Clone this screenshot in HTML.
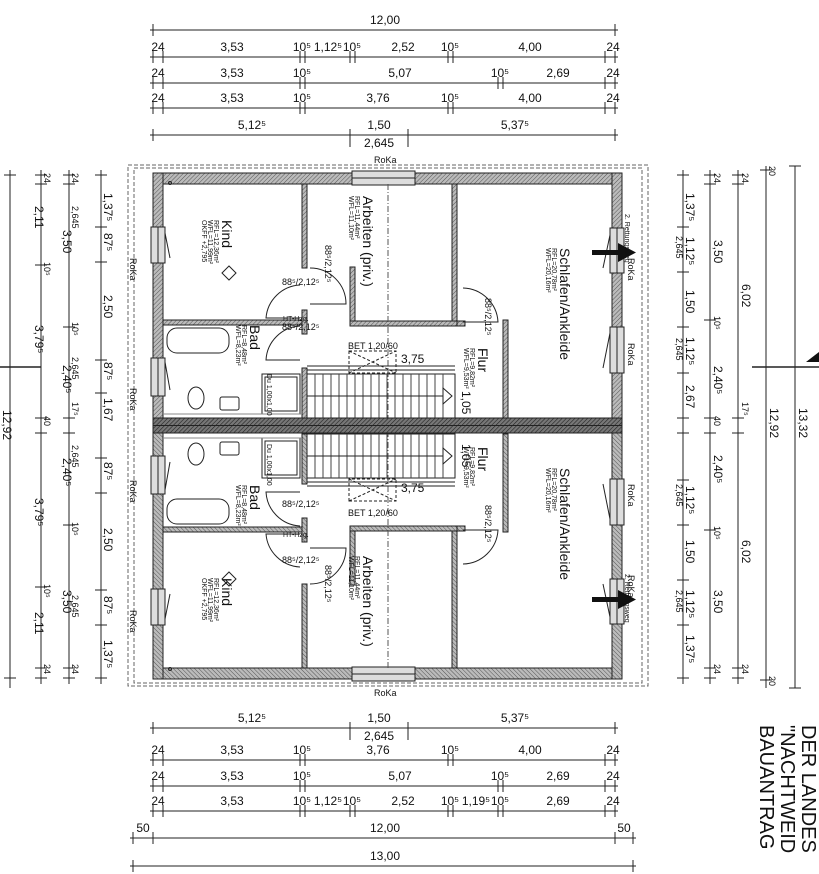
<!DOCTYPE html>
<html><head><meta charset="utf-8"><style>
html,body{margin:0;padding:0;background:#fff;}
svg{display:block;font-family:"Liberation Sans",sans-serif;}
</style></head><body>
<svg width="819" height="874" viewBox="0 0 819 874" xmlns="http://www.w3.org/2000/svg">
<defs>
<pattern id="h" width="3" height="3" patternUnits="userSpaceOnUse" patternTransform="rotate(45)">
<rect width="3" height="3" fill="#bbb"/><line x1="0" y1="0" x2="0" y2="3" stroke="#555" stroke-width="1"/></pattern>
<pattern id="hd" width="3" height="3" patternUnits="userSpaceOnUse" patternTransform="rotate(45)">
<rect width="3" height="3" fill="#777"/><line x1="0" y1="0" x2="0" y2="3" stroke="#222" stroke-width="1.2"/></pattern>
</defs>
<rect width="819" height="874" fill="#fff"/>

<rect x="128" y="165" width="520" height="521" fill="none" stroke="#666" stroke-dasharray="4,2" stroke-width="1"/>
<rect x="134" y="168" width="508" height="515" fill="none" stroke="#666" stroke-dasharray="4,2" stroke-width="1"/>

<g id="half" stroke="#222" stroke-width="1">
  <rect x="153" y="173" width="469" height="11" fill="url(#h)"/>
  <rect x="153" y="173" width="10" height="253" fill="url(#h)"/>
  <rect x="612" y="173" width="10" height="253" fill="url(#h)"/>
  <rect x="302" y="184" width="5" height="84" fill="url(#h)"/>
  <rect x="452" y="184" width="5" height="142" fill="url(#h)"/>
  <rect x="350" y="267" width="5" height="59" fill="url(#h)"/>
  <rect x="350" y="321" width="107" height="5" fill="url(#h)"/>
  <rect x="163" y="320" width="144" height="5" fill="url(#h)"/>
  <rect x="302" y="310" width="5" height="24" fill="url(#h)"/>
  <rect x="302" y="368" width="5" height="50" fill="url(#h)"/>
  <rect x="503" y="320" width="5" height="98" fill="url(#h)"/>
  <rect x="457" y="321" width="8" height="5" fill="url(#h)"/>
  <rect x="352" y="171" width="63" height="14" fill="#ddd"/>
  <line x1="352" y1="178" x2="415" y2="178"/>
  <rect x="151" y="227" width="14" height="36" fill="#ddd"/><line x1="158" y1="227" x2="158" y2="263"/>
  <path d="M165 233 L170 258" fill="none"/>
  <rect x="151" y="358" width="14" height="38" fill="#ddd"/><line x1="158" y1="358" x2="158" y2="396"/>
  <path d="M165 362 L170 390" fill="none"/>
  <rect x="610" y="228" width="14" height="45" fill="#ddd"/><line x1="617" y1="228" x2="617" y2="273"/>
  <path d="M610 235 L603 268" fill="none"/>
  <rect x="610" y="327" width="14" height="46" fill="#ddd"/><line x1="617" y1="327" x2="617" y2="373"/>
  <path d="M610 333 L603 368" fill="none"/>
  <path d="M310 268 A36 36 0 0 1 346 304 L310 304" fill="none"/>
  <path d="M300 285 A36 36 0 0 0 266 318 L300 318" fill="none"/>
  <path d="M300 330 A36 36 0 0 0 266 364 L300 364" fill="none" transform="translate(0,-4)"/>
  <path d="M463 288 A36 36 0 0 1 498 322 L463 322" fill="none"/>
  <rect x="307" y="374" width="148" height="44" fill="none"/>
  <g stroke="#444">
   <line x1="315" y1="374" x2="315" y2="418"/><line x1="323" y1="374" x2="323" y2="418"/><line x1="331" y1="374" x2="331" y2="418"/><line x1="339" y1="374" x2="339" y2="418"/><line x1="347" y1="374" x2="347" y2="418"/><line x1="355" y1="374" x2="355" y2="418"/><line x1="363" y1="374" x2="363" y2="418"/><line x1="371" y1="374" x2="371" y2="418"/><line x1="379" y1="374" x2="379" y2="418"/><line x1="387" y1="374" x2="387" y2="418"/><line x1="395" y1="374" x2="395" y2="418"/><line x1="403" y1="374" x2="403" y2="418"/><line x1="411" y1="374" x2="411" y2="418"/><line x1="419" y1="374" x2="419" y2="418"/><line x1="427" y1="374" x2="427" y2="418"/><line x1="435" y1="374" x2="435" y2="418"/><line x1="443" y1="374" x2="443" y2="418"/>
  </g>
  <path d="M443 388 L452 396 L443 404 Z" fill="none"/>
  <line x1="307" y1="396" x2="443" y2="396"/>
  <line x1="307" y1="370" x2="455" y2="370"/>
  <rect x="349" y="351" width="47" height="22" fill="none" stroke-dasharray="3,2"/>
  <path d="M349 351 L396 373 M349 373 L396 351" stroke-dasharray="3,2" fill="none"/>
  <rect x="167" y="328" width="62" height="25" rx="10" fill="none"/>
  <rect x="262" y="374" width="38" height="40" fill="none"/>
  <rect x="265" y="377" width="32" height="34" fill="none"/>
  <ellipse cx="196" cy="398" rx="8" ry="11" fill="none"/>
  <rect x="220" y="397" width="19" height="13" rx="2" fill="none"/>
  <line x1="163" y1="414" x2="302" y2="414" stroke="#888"/>
  <line x1="388" y1="184" x2="388" y2="418" stroke="#555" stroke-dasharray="6,2,1,2"/>
  <rect x="592" y="250" width="28" height="5" fill="#111" stroke="none"/>
  <path d="M618 243 L636 252.5 L618 262 Z" fill="#111" stroke="none"/>
  <circle cx="170" cy="183" r="1.5" fill="none"/>
  <path d="M222 273 l7 -7 l7 7 l-7 7 z" fill="none"/>
</g>
<use href="#half" transform="translate(0,852) scale(1,-1)"/>

<rect x="153" y="418" width="469" height="15" fill="url(#hd)" stroke="#222"/>
<line x1="153" y1="425.5" x2="622" y2="425.5" stroke="#222" stroke-width="1"/>

<g fill="#111" font-size="14">
 <text transform="translate(222,220) rotate(90)">Kind</text>
 <text transform="translate(363,196) rotate(90)">Arbeiten  (priv.)</text>
 <text transform="translate(560,248) rotate(90)">Schlafen/Ankleide</text>
 <text transform="translate(250,325) rotate(90)">Bad</text>
 <text transform="translate(478,348) rotate(90)">Flur</text>
 <text transform="translate(222,578) rotate(90)">Kind</text>
 <text transform="translate(363,556) rotate(90)">Arbeiten  (priv.)</text>
 <text transform="translate(560,468) rotate(90)">Schlafen/Ankleide</text>
 <text transform="translate(250,485) rotate(90)">Bad</text>
 <text transform="translate(478,447) rotate(90)">Flur</text>
</g>
<g fill="#111" font-size="7">
 <text transform="translate(214,220) rotate(90)">RFL=12,36m²</text>
 <text transform="translate(208,220) rotate(90)">WFL=11,99m²</text>
 <text transform="translate(202,220) rotate(90)">OKFF +2,795</text>
 <text transform="translate(355,196) rotate(90)">RFL=11,44m²</text>
 <text transform="translate(349,196) rotate(90)">WFL=11,10m²</text>
 <text transform="translate(552,248) rotate(90)">RFL=20,78m²</text>
 <text transform="translate(546,248) rotate(90)">WFL=20,16m²</text>
 <text transform="translate(242,325) rotate(90)">RFL=8,48m²</text>
 <text transform="translate(236,325) rotate(90)">WFL=8,23m²</text>
 <text transform="translate(470,348) rotate(90)">RFL=9,82m²</text>
 <text transform="translate(464,348) rotate(90)">WFL=9,53m²</text>
 <text transform="translate(214,578) rotate(90)">RFL=12,36m²</text>
 <text transform="translate(208,578) rotate(90)">WFL=11,99m²</text>
 <text transform="translate(202,578) rotate(90)">OKFF +2,795</text>
 <text transform="translate(355,556) rotate(90)">RFL=11,44m²</text>
 <text transform="translate(349,556) rotate(90)">WFL=11,10m²</text>
 <text transform="translate(552,468) rotate(90)">RFL=20,78m²</text>
 <text transform="translate(546,468) rotate(90)">WFL=20,16m²</text>
 <text transform="translate(242,485) rotate(90)">RFL=8,48m²</text>
 <text transform="translate(236,485) rotate(90)">WFL=8,23m²</text>
 <text transform="translate(470,447) rotate(90)">RFL=9,82m²</text>
 <text transform="translate(464,447) rotate(90)">WFL=9,53m²</text>
 <text x="283" y="321">HT-Hzg.</text>
 <text x="283" y="537">HT-Hzg.</text>
 <text transform="translate(267,374) rotate(90)">Du 1,00x1,00</text>
 <text transform="translate(267,444) rotate(90)">Du 1,00x1,00</text>
 <text transform="translate(625,214) rotate(90)">2. Rettungsweg</text>
 <text transform="translate(625,574) rotate(90)">2. Rettungsweg</text>
</g>
<g fill="#111" font-size="9">
 <text x="282" y="330">88⁵/2,12⁵</text>
 <text x="282" y="285">88⁵/2,12⁵</text>
 <text x="282" y="507">88⁵/2,12⁵</text>
 <text x="282" y="563">88⁵/2,12⁵</text>
 <text transform="translate(325,245) rotate(90)">88⁵/2,12⁵</text>
 <text transform="translate(325,565) rotate(90)">88⁵/2,12⁵</text>
 <text transform="translate(485,298) rotate(90)">88⁵/2,12⁵</text>
 <text transform="translate(485,505) rotate(90)">88⁵/2,12⁵</text>
 <text x="348" y="349">BET 1,20/60</text>
 <text x="348" y="516">BET 1,20/60</text>
 <text transform="translate(130,258) rotate(90)">RoKa</text>
 <text transform="translate(130,388) rotate(90)">RoKa</text>
 <text transform="translate(130,480) rotate(90)">RoKa</text>
 <text transform="translate(130,610) rotate(90)">RoKa</text>
 <text transform="translate(628,258) rotate(90)">RoKa</text>
 <text transform="translate(628,343) rotate(90)">RoKa</text>
 <text transform="translate(628,484) rotate(90)">RoKa</text>
 <text transform="translate(628,575) rotate(90)">RoKa</text>
 <text x="374" y="163">RoKa</text>
 <text x="374" y="696">RoKa</text>
</g>
<g fill="#111" font-size="12">
 <text x="401" y="363">3,75</text>
 <text x="401" y="492">3,75</text>
 <text transform="translate(462,391) rotate(90)">1,05</text>
 <text transform="translate(462,444) rotate(90)">1,05</text>
</g>
<line x1="307" y1="366" x2="455" y2="366" stroke="#222"/>
<line x1="307" y1="486" x2="455" y2="486" stroke="#222"/>

<g stroke="#222" stroke-width="1" fill="none">
 <line x1="150" y1="30" x2="618" y2="30"/>
 <line x1="150" y1="57" x2="618" y2="57"/>
 <line x1="150" y1="83" x2="618" y2="83"/>
 <line x1="150" y1="108" x2="618" y2="108"/>
 <line x1="150" y1="135" x2="618" y2="135"/>
 <line x1="150" y1="728" x2="618" y2="728"/>
 <line x1="150" y1="760" x2="618" y2="760"/>
 <line x1="150" y1="786" x2="618" y2="786"/>
 <line x1="150" y1="811" x2="618" y2="811"/>
 <line x1="130" y1="838" x2="636" y2="838"/>
 <line x1="130" y1="866" x2="636" y2="866"/>
 <path d="M153 24v12M615 24v12
 M153 51v12M163 51v12M300 51v12M305 51v12M350 51v12M355 51v12M448 51v12M453 51v12M605 51v12M615 51v12
 M153 77v12M163 77v12M300 77v12M305 77v12M498 77v12M503 77v12M605 77v12M615 77v12
 M153 102v12M163 102v12M300 102v12M305 102v12M448 102v12M453 102v12M605 102v12M615 102v12
 M153 129v12M350 129v18M408 129v18M615 129v12
 M153 722v12M350 722v18M408 722v18M615 722v12
 M153 754v12M163 754v12M300 754v12M305 754v12M448 754v12M453 754v12M605 754v12M615 754v12
 M153 780v12M163 780v12M300 780v12M305 780v12M498 780v12M503 780v12M605 780v12M615 780v12
 M153 805v12M163 805v12M300 805v12M305 805v12M350 805v12M355 805v12M448 805v12M453 805v12M498 805v12M503 805v12M605 805v12M615 805v12
 M133 832v12M153 832v12M615 832v12M633 832v12
 M133 860v12M633 860v12"/>
</g>
<g fill="#111" font-size="12" text-anchor="middle">
 <text x="385" y="24">12,00</text>
 <text x="158" y="51">24</text><text x="232" y="51">3,53</text><text x="302" y="51">10⁵</text><text x="328" y="51">1,12⁵</text><text x="352" y="51">10⁵</text><text x="403" y="51">2,52</text><text x="450" y="51">10⁵</text><text x="530" y="51">4,00</text><text x="613" y="51">24</text>
 <text x="158" y="77">24</text><text x="232" y="77">3,53</text><text x="302" y="77">10⁵</text><text x="400" y="77">5,07</text><text x="500" y="77">10⁵</text><text x="558" y="77">2,69</text><text x="613" y="77">24</text>
 <text x="158" y="102">24</text><text x="232" y="102">3,53</text><text x="302" y="102">10⁵</text><text x="378" y="102">3,76</text><text x="450" y="102">10⁵</text><text x="530" y="102">4,00</text><text x="613" y="102">24</text>
 <text x="252" y="129">5,12⁵</text><text x="379" y="129">1,50</text><text x="379" y="147">2,645</text><text x="515" y="129">5,37⁵</text>
 <text x="252" y="722">5,12⁵</text><text x="379" y="722">1,50</text><text x="379" y="740">2,645</text><text x="515" y="722">5,37⁵</text>
 <text x="158" y="754">24</text><text x="232" y="754">3,53</text><text x="302" y="754">10⁵</text><text x="378" y="754">3,76</text><text x="450" y="754">10⁵</text><text x="530" y="754">4,00</text><text x="613" y="754">24</text>
 <text x="158" y="780">24</text><text x="232" y="780">3,53</text><text x="302" y="780">10⁵</text><text x="400" y="780">5,07</text><text x="500" y="780">10⁵</text><text x="558" y="780">2,69</text><text x="613" y="780">24</text>
 <text x="158" y="805">24</text><text x="232" y="805">3,53</text><text x="302" y="805">10⁵</text><text x="328" y="805">1,12⁵</text><text x="352" y="805">10⁵</text><text x="403" y="805">2,52</text><text x="450" y="805">10⁵</text><text x="476" y="805">1,19⁵</text><text x="500" y="805">10⁵</text><text x="558" y="805">2,69</text><text x="613" y="805">24</text>
 <text x="143" y="832">50</text><text x="385" y="832">12,00</text><text x="624" y="832">50</text>
 <text x="385" y="860">13,00</text>
</g>

<g stroke="#222" stroke-width="1" fill="none">
 <line x1="10" y1="170" x2="10" y2="688"/>
 <line x1="41" y1="170" x2="41" y2="684"/>
 <line x1="69" y1="170" x2="69" y2="684"/>
 <line x1="101" y1="170" x2="101" y2="684"/>
 <line x1="0" y1="367" x2="41" y2="367" stroke-width="1.5"/>
 <line x1="683" y1="170" x2="683" y2="684"/>
 <line x1="710" y1="170" x2="710" y2="684"/>
 <line x1="738" y1="170" x2="738" y2="684"/>
 <line x1="766" y1="166" x2="766" y2="688"/>
 <line x1="795" y1="166" x2="795" y2="688"/>
 <line x1="752" y1="367" x2="819" y2="367" stroke-width="1.5"/>
 <path d="M4 175h12M35 175h12M35 184h12M35 265h12M35 418h12M35 433h12M35 587h12M35 668h12M35 678h12
 M63 175h12M63 184h12M63 327h12M63 418h12M63 433h12M63 525h12M63 668h12M63 678h12
 M95 175h12M95 227h12M95 262h12M95 360h12M95 393h12M95 458h12M95 493h12M95 590h12M95 625h12M95 678h12
 M4 678h12
 M677 175h12M677 227h12M677 272h12M677 327h12M677 373h12M677 418h12M677 433h12M677 480h12M677 525h12M677 580h12M677 625h12M677 678h12
 M704 175h12M704 184h12M704 320h12M704 418h12M704 433h12M704 530h12M704 668h12M704 678h12
 M732 175h12M732 184h12M732 418h12M732 433h12M732 668h12M732 678h12
 M760 170h12M760 680h12M789 166h12M789 688h12"/>
</g>
<path d="M819 352 L806 362 L819 362 Z" fill="#111"/>
<g fill="#111" font-size="12">
 <text transform="translate(3,410) rotate(90)">12,92</text>
 <text transform="translate(35,206) rotate(90)">2,11</text>
 <text transform="translate(35,325) rotate(90)">3,79⁵</text>
 <text transform="translate(35,498) rotate(90)">3,79⁵</text>
 <text transform="translate(35,612) rotate(90)">2,11</text>
 <text transform="translate(63,230) rotate(90)">3,50</text>
 <text transform="translate(63,365) rotate(90)">2,40⁵</text>
 <text transform="translate(63,458) rotate(90)">2,40⁵</text>
 <text transform="translate(63,590) rotate(90)">3,50</text>
 <text transform="translate(104,193) rotate(90)">1,37⁵</text>
 <text transform="translate(104,233) rotate(90)">87⁵</text>
 <text transform="translate(104,295) rotate(90)">2,50</text>
 <text transform="translate(104,362) rotate(90)">87⁵</text>
 <text transform="translate(104,398) rotate(90)">1,67</text>
 <text transform="translate(104,462) rotate(90)">87⁵</text>
 <text transform="translate(104,528) rotate(90)">2,50</text>
 <text transform="translate(104,596) rotate(90)">87⁵</text>
 <text transform="translate(104,640) rotate(90)">1,37⁵</text>
 <text transform="translate(686,193) rotate(90)">1,37⁵</text>
 <text transform="translate(686,237) rotate(90)">1,12⁵</text>
 <text transform="translate(686,290) rotate(90)">1,50</text>
 <text transform="translate(686,337) rotate(90)">1,12⁵</text>
 <text transform="translate(686,385) rotate(90)">2,67</text>
 <text transform="translate(686,486) rotate(90)">1,12⁵</text>
 <text transform="translate(686,540) rotate(90)">1,50</text>
 <text transform="translate(686,590) rotate(90)">1,12⁵</text>
 <text transform="translate(686,635) rotate(90)">1,37⁵</text>
 <text transform="translate(714,240) rotate(90)">3,50</text>
 <text transform="translate(714,366) rotate(90)">2,40⁵</text>
 <text transform="translate(714,455) rotate(90)">2,40⁵</text>
 <text transform="translate(714,590) rotate(90)">3,50</text>
 <text transform="translate(742,284) rotate(90)">6,02</text>
 <text transform="translate(742,540) rotate(90)">6,02</text>
 <text transform="translate(770,408) rotate(90)">12,92</text>
 <text transform="translate(799,408) rotate(90)">13,32</text>
</g>
<g fill="#111" font-size="9">
 <text transform="translate(72,206) rotate(90)">2,645</text>
 <text transform="translate(72,357) rotate(90)">2,645</text>
 <text transform="translate(72,445) rotate(90)">2,645</text>
 <text transform="translate(72,595) rotate(90)">2,645</text>
 <text transform="translate(676,236) rotate(90)">2,645</text>
 <text transform="translate(676,338) rotate(90)">2,645</text>
 <text transform="translate(676,484) rotate(90)">2,645</text>
 <text transform="translate(676,590) rotate(90)">2,645</text>
 <text transform="translate(44,262) rotate(90)">10⁵</text>
 <text transform="translate(72,322) rotate(90)">10⁵</text>
 <text transform="translate(72,522) rotate(90)">10⁵</text>
 <text transform="translate(44,584) rotate(90)">10⁵</text>
 <text transform="translate(714,316) rotate(90)">10⁵</text>
 <text transform="translate(714,526) rotate(90)">10⁵</text>
 <text transform="translate(44,416) rotate(90)">40</text>
 <text transform="translate(714,416) rotate(90)">40</text>
 <text transform="translate(72,402) rotate(90)">17⁵</text>
 <text transform="translate(742,402) rotate(90)">17⁵</text>
 <text transform="translate(44,173) rotate(90)">24</text>
 <text transform="translate(72,173) rotate(90)">24</text>
 <text transform="translate(44,664) rotate(90)">24</text>
 <text transform="translate(72,664) rotate(90)">24</text>
 <text transform="translate(714,173) rotate(90)">24</text>
 <text transform="translate(742,173) rotate(90)">24</text>
 <text transform="translate(714,664) rotate(90)">24</text>
 <text transform="translate(742,664) rotate(90)">24</text>
 <text transform="translate(769,166) rotate(90)">20</text>
 <text transform="translate(769,676) rotate(90)">20</text>
</g>

<g fill="#111" font-size="20">
 <text transform="translate(802,725) rotate(90)">DER LANDES</text>
 <text transform="translate(781,725) rotate(90)">"NACHTWEID</text>
 <text transform="translate(760,725) rotate(90)">BAUANTRAG</text>
</g>
</svg>
</body></html>
